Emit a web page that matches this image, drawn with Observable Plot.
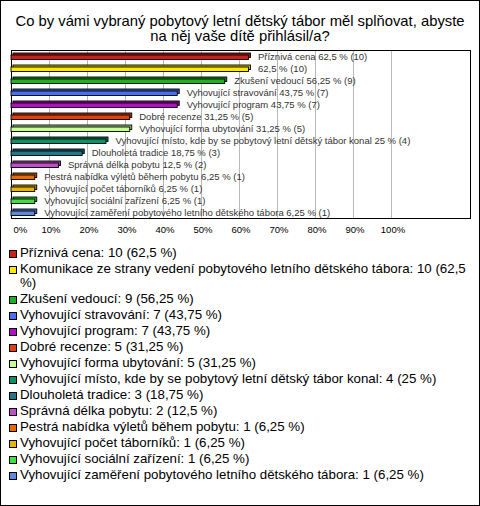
<!DOCTYPE html>
<html>
<head>
<meta charset="utf-8">
<script src="https://cdn.jsdelivr.net/npm/d3@7"></script>
<script src="https://cdn.jsdelivr.net/npm/@observablehq/plot@0.6"></script>
<style>
  html, body { margin: 0; padding: 0; background: #fff; }
  #wrap { position: relative; width: 480px; height: 506px; overflow: hidden; background: #fff;
          font-family: "Liberation Sans", Arial, sans-serif; }
  #wrap::after { content: ""; position: absolute; inset: 0; border: 1px solid #000; pointer-events: none; }
  #title { box-sizing: border-box; height: 45px; padding-top: 14px; text-align: center;
           font-size: 14.8px; line-height: 15px; color: #000; }
  #chart svg { display: block; }
  #legend { margin-top: 8px; padding-left: 9px; }
  .item { display: flex; align-items: flex-start; margin-bottom: 2px; }
  .sw { box-sizing: border-box; width: 8px; height: 8px; border: 1px solid #000; margin-top: 3.5px; margin-right: 3px; flex: none; }
  .txt { font-size: 13.3px; line-height: 14px; color: #000; width: 452px; }
</style>
</head>
<body>
<div id="wrap">
  <div id="title">Co by vámi vybraný pobytový letní dětský tábor měl splňovat, abyste<br>na něj vaše dítě přihlásil/a?</div>
  <div id="chart"></div>
  <div id="legend"></div>
</div>
<script>
const categories = [
  "Příznivá cena",
  "Komunikace ze strany vedení pobytového letního dětského tábora",
  "Zkušení vedoucí",
  "Vyhovující stravování",
  "Vyhovující program",
  "Dobré recenze",
  "Vyhovující forma ubytování",
  "Vyhovující místo, kde by se pobytový letní dětský tábor konal",
  "Dlouholetá tradice",
  "Správná délka pobytu",
  "Pestrá nabídka výletů během pobytu",
  "Vyhovující počet táborníků",
  "Vyhovující sociální zařízení",
  "Vyhovující zaměření pobytového letního dětského tábora"
];
const barNames = [
  "Příznivá cena",
  "",
  "Zkušení vedoucí",
  "Vyhovující stravování",
  "Vyhovující program",
  "Dobré recenze",
  "Vyhovující forma ubytování",
  "Vyhovující místo, kde by se pobytový letní dětský tábor konal",
  "Dlouholetá tradice",
  "Správná délka pobytu",
  "Pestrá nabídka výletů během pobytu",
  "Vyhovující počet táborníků",
  "Vyhovující sociální zařízení",
  "Vyhovující zaměření pobytového letního dětského tábora"
];
const counts = [10, 10, 9, 7, 7, 5, 5, 4, 3, 2, 1, 1, 1, 1];
const percents = [62.5, 62.5, 56.25, 43.75, 43.75, 31.25, 31.25, 25, 18.75, 12.5, 6.25, 6.25, 6.25, 6.25];
const colors = ["#c8201a", "#ffe800", "#20b020", "#4870f0", "#b010c0", "#e04010", "#c8ff90",
                "#109060", "#207888", "#c050c8", "#e86a00", "#e8b400", "#40e040", "#6088e0"];
const tickValues = [0, 10, 20, 30, 40, 50, 60, 70, 80, 90, 100];

const fmt = v => String(v).replace(".", ",");

const data = categories.map((c, i) => ({
  cat: c,
  pct: percents[i],
  color: colors[i],
  dark: d3.color(colors[i]).darker(0.7).formatHex(),
  label: (barNames[i] ? barNames[i] + " " : "") + fmt(percents[i]) + " % (" + counts[i] + ")"
}));

const chart = Plot.plot({
  width: 480,
  height: 193,
  marginLeft: 11,
  marginRight: 10,
  marginTop: 5,
  marginBottom: 20,
  style: { fontFamily: "'Liberation Sans', Arial, sans-serif", fontSize: "9.5px", color: "#333", background: "#fff" },
  x: { domain: [0, 120.8], label: null },
  y: { domain: categories, padding: 0, axis: null, label: null },
  color: { type: "identity" },
  marks: [
    Plot.ruleX(tickValues.slice(1), { stroke: "#b8b8b8", strokeWidth: 1 }),
    Plot.frame({ stroke: "#000", strokeWidth: 1 }),
    Plot.barX(data, { y: "cat", x1: d => 0, x2: "pct", fill: "dark", stroke: "#000", strokeWidth: 0.9,
                      insetTop: 5, insetBottom: 2.5, dx: 2, dy: -2 }),
    Plot.barX(data, { y: "cat", x1: d => 0, x2: "pct", fill: "color", stroke: "#000", strokeWidth: 0.9,
                      insetTop: 5, insetBottom: 2.5 }),
    Plot.text(data, { y: "cat", x: "pct", text: "label", textAnchor: "start", dx: 9, dy: 0.5, fill: "#333" }),
    Plot.axisX({ ticks: tickValues.slice(1), tickSize: 0, tickPadding: 8, dx: 1.5, label: null,
                 tickFormat: d => d + "%", fill: "#000" }),
    Plot.axisX({ ticks: [0], tickSize: 0, tickPadding: 8, dx: 2, textAnchor: "start", label: null,
                 tickFormat: d => d + "%", fill: "#000" })
  ]
});
document.getElementById("chart").append(chart);

const legend = document.getElementById("legend");
categories.forEach((c, i) => {
  const item = document.createElement("div");
  item.className = "item";
  const sw = document.createElement("span");
  sw.className = "sw";
  sw.style.background = colors[i];
  const t = document.createElement("span");
  t.className = "txt";
  t.textContent = c + ": " + counts[i] + " (" + fmt(percents[i]) + " %)";
  item.append(sw, t);
  legend.append(item);
});
</script>
</body>
</html>
